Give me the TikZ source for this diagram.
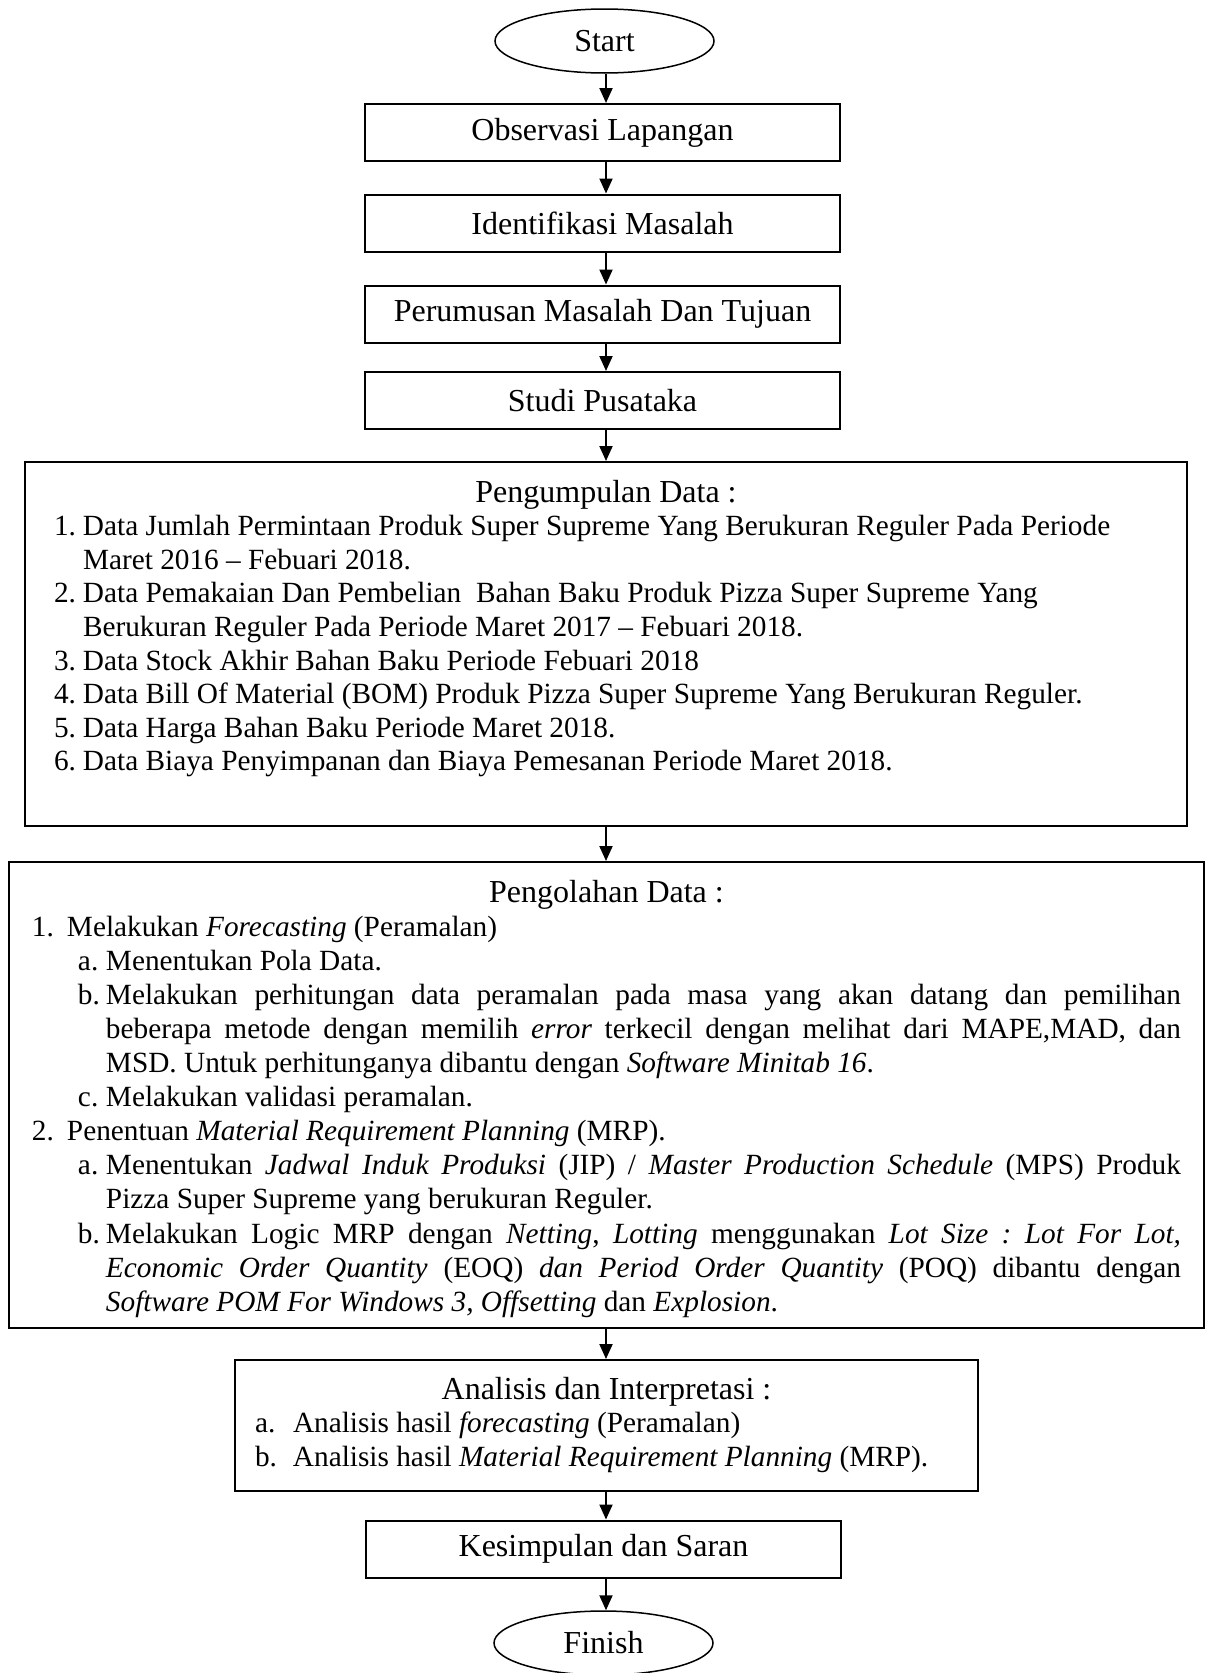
\documentclass[tikz,border=0pt]{standalone}
\usepackage{fontspec}
\setmainfont{Liberation Serif}
\usetikzlibrary{shapes.geometric,arrows.meta}
\newcommand\ttlfont{\fontsize{32}{34}\selectfont}
\newcommand\lstfont{\fontsize{29.3}{33.6}\selectfont}
\newcommand\litem[4]{\par\hangindent=\dimexpr#1+#2\relax\hangafter=1\noindent\hspace*{#1}\makebox[#2][l]{#3}#4\par}
\tikzset{
  stepbox/.style={draw, line width=2pt, inner sep=0pt, minimum width=475pt, minimum height=57pt, font=\ttlfont},
  bigbox/.style={draw, line width=2pt, inner sep=0pt},
  term/.style={draw, ellipse, line width=1.5pt, inner sep=0pt, minimum width=219pt, minimum height=64pt, font=\ttlfont},
  arr/.style={line width=2pt, -{Triangle[length=15pt,width=13pt]}},
}
\begin{document}
\frenchspacing
\begin{tikzpicture}[x=1pt,y=-1pt]
\useasboundingbox (0,0) rectangle (1211,1673);
\coordinate (axis) at (606,0);

\node[term] (start) at (604.5,41) {Start};
\node[stepbox] (obs) at (602.5,132.5) {Observasi Lapangan};
\node[stepbox] (ident) at (602.5,223) {Identifikasi Masalah};
\node[stepbox] (perum) at (602.5,314) {Perumusan Masalah Dan Tujuan};
\node[stepbox] (studi) at (602.5,400.5) {Studi Pusataka};

\node[bigbox] (kumpul) at (606,644) {\begin{minipage}[t][364pt][t]{1162pt}%
\parskip=0pt\parindent=0pt\hyphenpenalty=10000\frenchspacing
{\centering\ttlfont\rule{0pt}{40pt}Pengumpulan Data :\par}
\lstfont\raggedright
\litem{29pt}{29pt}{1.}{Data Jumlah Permintaan Produk Super Supreme Yang Berukuran Reguler Pada Periode\newline Maret 2016 – Febuari 2018.}
\litem{29pt}{29pt}{2.}{Data Pemakaian Dan Pembelian\ \ Bahan Baku Produk Pizza Super Supreme Yang\newline Berukuran Reguler Pada Periode Maret 2017 – Febuari 2018.}
\litem{29pt}{29pt}{3.}{Data Stock Akhir Bahan Baku Periode Febuari 2018}
\litem{29pt}{29pt}{4.}{Data Bill Of Material (BOM) Produk Pizza Super Supreme Yang Berukuran Reguler.}
\litem{29pt}{29pt}{5.}{Data Harga Bahan Baku Periode Maret 2018.}
\litem{29pt}{29pt}{6.}{Data Biaya Penyimpanan dan Biaya Pemesanan Periode Maret 2018.}
\end{minipage}};

\node[bigbox] (olah) at (606.5,1095) {\begin{minipage}[t][466pt][t]{1195pt}%
\parskip=0pt\parindent=0pt\hyphenpenalty=10000\tolerance=10000\frenchspacing
{\centering\ttlfont\rule{0pt}{40pt}Pengolahan Data :\par}
\fontsize{29.3}{34.1}\selectfont\rightskip=23pt
\litem{23pt}{35pt}{1.}{Melakukan \textit{Forecasting} (Peramalan)}
\litem{69pt}{28pt}{a.}{Menentukan Pola Data.}
\litem{69pt}{28pt}{b.}{Melakukan perhitungan data peramalan pada masa yang akan datang dan pemilihan\linebreak beberapa metode dengan memilih \textit{error} terkecil dengan melihat dari MAPE,MAD, dan\linebreak MSD. Untuk perhitunganya dibantu dengan \textit{Software Minitab 16}.}
\litem{69pt}{28pt}{c.}{Melakukan validasi peramalan.}
\litem{23pt}{35pt}{2.}{Penentuan \textit{Material Requirement Planning} (MRP).}
\litem{69pt}{28pt}{a.}{Menentukan \textit{Jadwal Induk Produksi} (JIP) / \textit{Master Production Schedule} (MPS) Produk\linebreak Pizza Super Supreme yang berukuran Reguler.}
\litem{69pt}{28pt}{b.}{Melakukan Logic MRP dengan \textit{Netting}, \textit{Lotting} menggunakan \textit{Lot Size : Lot For Lot,}\linebreak \textit{Economic Order Quantity} (EOQ) \textit{dan Period Order Quantity} (POQ) dibantu dengan\linebreak \textit{Software POM For Windows 3, Offsetting} dan \textit{Explosion}.}
\end{minipage}};

\node[bigbox] (anal) at (606.5,1425.5) {\begin{minipage}[t][131pt][t]{743pt}%
\parskip=0pt\parindent=0pt\hyphenpenalty=10000\frenchspacing
{\centering\ttlfont\rule{0pt}{39pt}Analisis dan Interpretasi :\par}
\lstfont\raggedright
\litem{20pt}{38pt}{a.}{Analisis hasil \textit{forecasting} (Peramalan)}
\litem{20pt}{38pt}{b.}{Analisis hasil \textit{Material Requirement Planning} (MRP).}
\end{minipage}};

\node[stepbox] (simp) at (603.5,1549) {Kesimpulan dan Saran};
\node[term] (finish) at (603.5,1643) {Finish};

\draw[arr] (start.south -| axis) -- (obs.north -| axis);
\draw[arr] (obs.south -| axis) -- (ident.north -| axis);
\draw[arr] (ident.south -| axis) -- (perum.north -| axis);
\draw[arr] (perum.south -| axis) -- (studi.north -| axis);
\draw[arr] (studi.south -| axis) -- (kumpul.north -| axis);
\draw[arr] (kumpul.south -| axis) -- (olah.north -| axis);
\draw[arr] (olah.south -| axis) -- (anal.north -| axis);
\draw[arr] (anal.south -| axis) -- (simp.north -| axis);
\draw[arr] (simp.south -| axis) -- (finish.north -| axis);
\end{tikzpicture}
\end{document}
